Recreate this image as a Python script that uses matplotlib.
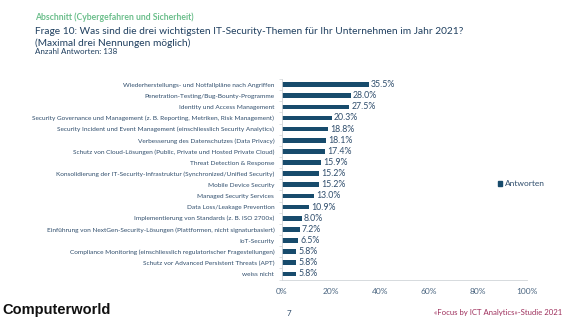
import matplotlib
matplotlib.use('Agg')
import matplotlib.pyplot as plt
from matplotlib.patches import Patch

plt.rcParams['font.family'] = ['Lato', 'DejaVu Sans']

GREEN = '#6cbf8c'; NAVY = '#1f3f5f'; BAR = '#174b6c'; TXT = '#2f4d6c'; MAROON = '#9e2f5c'; AXIS = '#d0d4d8'

categories = [
    'Wiederherstellungs- und Notfallpläne nach Angriffen',
    'Penetration-Testing/Bug-Bounty-Programme',
    'Identity und Access Management',
    'Security Governance und Management (z. B. Reporting, Metriken, Risk Management)',
    'Security Incident und Event Management (einschliesslich Security Analytics)',
    'Verbesserung des Datenschutzes (Data Privacy)',
    'Schutz von Cloud-Lösungen (Public, Private und Hosted Private Cloud)',
    'Threat Detection & Response',
    'Konsolidierung der IT-Security-Infrastruktur (Synchronized/Unified Security)',
    'Mobile Device Security',
    'Managed Security Services',
    'Data Loss/Leakage Prevention',
    'Implementierung von Standards (z. B. ISO 2700x)',
    'Einführung von NextGen-Security-Lösungen (Plattformen, nicht signaturbasiert)',
    'IoT-Security',
    'Compliance Monitoring (einschliesslich regulatorischer Fragestellungen)',
    'Schutz vor Advanced Persistent Threats (APT)',
    'weiss nicht',
]
values = [35.5, 28.0, 27.5, 20.3, 18.8, 18.1, 17.4, 15.9, 15.2, 15.2, 13.0, 10.9, 8.0, 7.2, 6.5, 5.8, 5.8, 5.8]
xticks = [0, 20, 40, 60, 80, 100]

W, H = 580, 326
fig = plt.figure(figsize=(W / 100, H / 100), dpi=100, facecolor='white')
ax = fig.add_axes([282 / W, 1 - 279.5 / H, 245 / W, 200.5 / H])

y = list(range(len(categories)))
ax.barh(y, values, height=0.42, color=BAR, zorder=2)
for yi, v in zip(y, values):
    ax.text(v + 0.9, yi, f'{v:.1f}%', va='center', ha='left', fontsize=6.3, color=TXT)

n = len(categories)
ax.set_ylim(n - 0.5, -0.5)
ax.set_xlim(0, 100)
ax.set_yticks(y)
ax.set_yticklabels(categories, fontsize=4.65, color=TXT)
ax.set_yticks([i - 0.5 for i in range(n + 1)], minor=True)
ax.set_xticks(xticks)
ax.set_xticklabels([f'{t}%' for t in xticks], fontsize=6.0, color='#4a6580')
ax.tick_params(axis='y', which='major', length=0, pad=5.5)
ax.tick_params(axis='y', which='minor', length=2, width=0.5, color=AXIS)
ax.tick_params(axis='x', length=0, pad=6)
for s in ['top', 'right']:
    ax.spines[s].set_visible(False)
ax.spines['left'].set_color(AXIS)
ax.spines['bottom'].set_color(AXIS)
ax.spines['left'].set_linewidth(0.6)
ax.spines['bottom'].set_linewidth(0.6)

fig.legend(handles=[Patch(color=BAR, label='Antworten')], loc='center left',
           bbox_to_anchor=(490 / W, 1 - 184 / H), frameon=False, fontsize=6.0,
           handlelength=0.55, handleheight=0.55, handletextpad=0.3, labelcolor=TXT)

fig.text(35 / W, 1 - 17 / H, 'Abschnitt (Cybergefahren und Sicherheit)', fontsize=6.2,
         color=GREEN, fontweight='bold', va='center')
fig.text(35 / W, 1 - 32 / H, 'Frage 10: Was sind die drei wichtigsten IT-Security-Themen für Ihr Unternehmen im Jahr 2021?',
         fontsize=7.3, color=NAVY, va='center')
fig.text(35 / W, 1 - 43.5 / H, '(Maximal drei Nennungen möglich)', fontsize=7.3, color=NAVY, va='center')
fig.text(35 / W, 1 - 52 / H, 'Anzahl Antworten: 138', fontsize=5.8, color=NAVY, va='center')

fig.text(2 / W, 1 - 310 / H, 'Computerworld', fontsize=10.5, fontweight='bold', fontstretch='condensed',
         color='#111111', va='center', family=['Liberation Sans', 'DejaVu Sans'])
fig.text(289 / W, 1 - 313 / H, '7', fontsize=5.8, color=TXT, va='center', ha='center')
fig.text(562 / W, 1 - 313 / H, '«Focus by ICT Analytics»-Studie 2021', fontsize=5.6, color=MAROON,
         va='center', ha='right')

fig.savefig('out.png', dpi=100, facecolor='white')
